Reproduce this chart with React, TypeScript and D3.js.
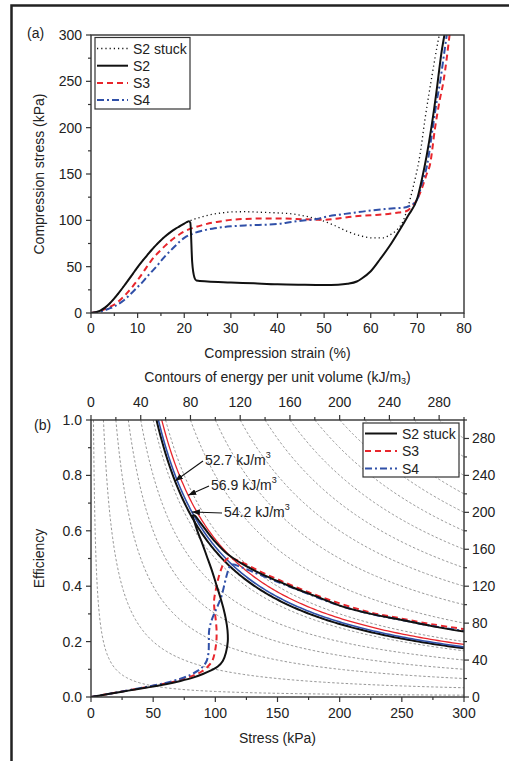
import React from 'react';
import * as d3 from 'd3';

const FONT = "'Liberation Sans', Arial, Helvetica, sans-serif";
const RED = '#e8262c';
const BLUE = '#3050a8';
const INK = '#222';

// ---------- Panel (a) data: compression strain (%) vs stress (kPa)
const strainTicks = [0, 10, 20, 30, 40, 50, 60, 70, 80];
const strainMinor = [5, 15, 25, 35, 45, 55, 65, 75];
const stressTicksA = [0, 50, 100, 150, 200, 250, 300];
const stressMinorA = [25, 75, 125, 175, 225, 275];

const s2StuckA: [number, number][] = [
  [0, 0], [1, 0.8], [2, 2.6], [3, 5.8], [4, 10.3], [5, 15.8], [6, 22], [7, 28.6], [8, 35.4], [9, 42.5], [10, 49.5],
  [11, 56], [12, 62], [13, 68], [14, 73.5], [15, 78.5], [16, 83], [17, 87], [18, 90.5], [19, 93.5], [20, 96.5],
  [21, 99], [22, 101], [24, 104], [26, 106.5], [28, 108], [30, 109], [33, 109.3], [36, 108.8], [40, 108],
  [43, 107], [46, 104.5], [49, 100.7], [52, 95], [55, 88], [58, 83], [60.5, 81], [62.7, 81], [64, 84],
  [65.6, 89.6], [67, 100], [68, 115], [69.1, 136], [70.6, 172], [71.6, 208], [73.1, 255], [74.5, 295], [74.7, 300],
];
const s2A: [number, number][] = [
  [0, 0], [1, 0.8], [2, 2.6], [3, 5.8], [4, 10.3], [5, 15.8], [6, 22], [7, 28.6], [8, 35.4], [9, 42.5], [10, 49.5],
  [11, 56], [12, 62], [13, 68], [14, 73.5], [15, 78.5], [16, 83], [17, 87], [18, 90.5], [19, 93.5], [20, 96.5],
  [21, 99], [21.3, 97.5], [21.7, 55], [22.2, 38], [22.6, 35], [25, 34], [30, 33], [35, 32], [40, 31],
  [45, 30.5], [50, 30.2], [53, 30.5], [55, 31.5], [57, 34], [58, 37], [60, 45], [62, 58], [64, 72], [66, 88],
  [68, 105], [70, 124], [71, 145], [72, 170], [73, 200], [74, 235], [74.5, 255], [75.2, 282], [75.8, 300],
];
const s3A: [number, number][] = [
  [0, 0], [1, 0.8], [2, 2.2], [3, 4.2], [4, 6.5], [5, 9], [6, 13], [7, 17.5], [8, 23], [9, 29], [10, 35.5],
  [11, 42.5], [12, 50], [13, 57], [14, 63], [15, 68], [16, 73], [17, 77.5], [18, 81.5], [19, 85], [20, 88],
  [22, 92], [24, 95], [26, 97.5], [28, 99], [30, 100.5], [33, 101.5], [36, 102], [40, 102], [44, 101.5],
  [48, 100.7], [50, 100.5], [53, 102], [56, 104], [60, 105.5], [63, 106.5], [66, 108.5], [67.7, 110],
  [69, 116], [69.9, 122], [71, 135], [72, 150], [72.7, 160], [73.8, 200], [74.8, 230], [75.6, 250],
  [76.3, 275], [76.9, 300],
];
const s4A: [number, number][] = [
  [0, 0], [1, 0.5], [2, 1.5], [3, 3], [4, 5], [5, 7], [6, 10], [7, 13.5], [8, 18], [9, 23], [10, 28],
  [11, 33], [12, 39], [13, 44.5], [14, 50], [15, 56], [16, 62], [17, 67], [18, 72], [19, 77], [20, 81],
  [22, 86], [24, 89], [26, 91], [28, 92.5], [30, 93.5], [33, 94.5], [36, 95], [40, 96], [43.4, 98.5],
  [46, 100], [48.4, 101.4], [50.5, 104], [53, 106], [55.5, 107.6], [59, 110], [62.7, 112], [65, 113],
  [67, 113.5], [68.5, 116], [69.9, 122], [71, 140], [72.1, 160], [73.3, 200], [74.2, 230], [74.9, 250],
  [75.6, 275], [76.3, 300],
];

// ---------- Panel (b) data: stress (kPa) vs efficiency
const stressTicksB = [0, 50, 100, 150, 200, 250, 300];
const stressMinorB = [25, 75, 125, 175, 225, 275];
const effTicks = [0, 0.2, 0.4, 0.6, 0.8, 1.0];
const effMinor = [0.1, 0.3, 0.5, 0.7, 0.9];
const energyTicks = [0, 40, 80, 120, 160, 200, 240, 280];
const energyMinor = [20, 60, 100, 140, 180, 220, 260, 300];
const contourLevels = [2, 10, 20, 30, 40, 50, 60, 80, 100, 120, 140, 160, 180, 200, 220, 240, 260, 280];
const markedLevels = [52.7, 54.2, 56.9];
const markedLabels = ['52.7 kJ/m', '54.2 kJ/m', '56.9 kJ/m'];

const s2StuckB: [number, number][] = [
  [0, 0], [5, 0.004], [15, 0.012], [30, 0.023], [45, 0.034], [60, 0.046], [72, 0.058], [82, 0.07],
  [90, 0.083], [97, 0.097], [102, 0.11], [106, 0.13], [108.5, 0.16], [110, 0.2], [109.8, 0.24],
  [108.5, 0.28], [106.5, 0.32], [104, 0.36], [100.5, 0.41], [97, 0.46], [93, 0.51], [89, 0.56],
  [85.5, 0.6], [83, 0.635], [82, 0.655], [83.5, 0.655], [87, 0.635], [92, 0.605], [100, 0.56],
  [110, 0.515], [120, 0.485], [130, 0.46], [145, 0.428], [160, 0.4], [180, 0.365], [200, 0.33],
  [225, 0.3], [250, 0.278], [275, 0.255], [300, 0.236],
];
const s3B: [number, number][] = [
  [0, 0], [5, 0.004], [15, 0.012], [30, 0.024], [45, 0.036], [60, 0.049], [72, 0.062], [82, 0.077],
  [89, 0.092], [94, 0.11], [97.5, 0.13], [99.5, 0.16], [100.8, 0.2], [101, 0.24], [100.3, 0.28],
  [99.2, 0.32], [99, 0.35], [100.5, 0.39], [102.5, 0.43], [105, 0.465], [107.5, 0.49], [110, 0.5],
  [115, 0.497], [122, 0.485], [135, 0.455], [150, 0.425], [175, 0.378], [200, 0.338], [225, 0.305],
  [250, 0.283], [275, 0.262], [300, 0.245],
];
const s4B: [number, number][] = [
  [0, 0], [5, 0.004], [15, 0.012], [30, 0.024], [45, 0.037], [60, 0.051], [72, 0.066], [80, 0.08],
  [86, 0.095], [90, 0.11], [93, 0.13], [94.5, 0.16], [94.8, 0.2], [95, 0.24], [96.5, 0.27], [99, 0.3],
  [102, 0.33], [105, 0.365], [107.5, 0.41], [109.5, 0.445], [111.5, 0.47], [114, 0.478], [120, 0.47],
  [130, 0.452], [145, 0.425], [160, 0.398], [180, 0.363], [200, 0.33], [225, 0.3], [250, 0.278],
  [275, 0.256], [300, 0.238],
];

// ---------- layout
const A = { l: 91, r: 464, t: 35, b: 313 };
const B = { l: 91, r: 464, t: 420, b: 697 };

const xA = d3.scaleLinear().domain([0, 80]).range([A.l, A.r]);
const yA = d3.scaleLinear().domain([0, 300]).range([A.b, A.t]);
const xB = d3.scaleLinear().domain([0, 300]).range([B.l, B.r]);
const yB = d3.scaleLinear().domain([0, 1]).range([B.b, B.t]);
const yBR = d3.scaleLinear().domain([0, 300]).range([B.b, B.t]);

const lineA = d3.line<[number, number]>().x(d => xA(d[0])).y(d => yA(d[1])).curve(d3.curveMonotoneX);
const lineB = d3.line<[number, number]>().x(d => xB(d[0])).y(d => yB(d[1])).curve(d3.curveCatmullRom.alpha(0.5));

// contour of constant energy per unit volume: efficiency = W / stress
function contourPath(level: number): string {
  const pts: [number, number][] = [];
  const start = Math.max(level, 0.5);
  const n = 160;
  for (let i = 0; i <= n; i++) {
    const s = start * Math.pow(300 / start, i / n);
    pts.push([s, level / s]);
  }
  return d3.line<[number, number]>().x(d => xB(d[0])).y(d => yB(d[1]))(pts) || '';
}

const STY = {
  stuckDot: { stroke: '#111', strokeWidth: 1.3, strokeDasharray: '1.2,3' },
  solid: { stroke: '#111', strokeWidth: 2 },
  dash: { stroke: RED, strokeWidth: 2, strokeDasharray: '6,4' },
  dashDot: { stroke: BLUE, strokeWidth: 2, strokeDasharray: '7,3,2,3' },
};

const tickFont = { fontFamily: FONT, fontSize: 14, fill: INK } as const;

export default function App() {
  return (
    <svg width={509} height={761} style={{ position: 'absolute', left: 0, top: 0, background: '#fff' }}
      xmlns="http://www.w3.org/2000/svg">
      <defs>
        <clipPath id="clipA"><rect x={A.l} y={A.t} width={A.r - A.l} height={A.b - A.t} /></clipPath>
        <clipPath id="clipB"><rect x={B.l} y={B.t} width={B.r - B.l} height={B.b - B.t} /></clipPath>
        <marker id="arr" viewBox="0 0 8 6" refX="8" refY="3" markerWidth="8" markerHeight="6" orient="auto" markerUnits="userSpaceOnUse">
          <path d="M0,0 L8,3 L0,6 z" fill="#111" />
        </marker>
      </defs>
      <rect x={0} y={0} width={509} height={761} fill="#fff" />
      {/* frame */}
      <path d="M11.5,761 L11.5,5.5 L509,5.5" fill="none" stroke="#222" strokeWidth={2.5} />

      {/* ================= Panel (a) ================= */}
      <text x={27} y={38} style={tickFont}>(a)</text>
      <g clipPath="url(#clipA)" fill="none">
        <path d={lineA(s2StuckA) || ''} {...STY.stuckDot} />
        <path d={lineA(s3A) || ''} {...STY.dash} />
        <path d={lineA(s4A) || ''} {...STY.dashDot} />
        <path d={lineA(s2A) || ''} {...STY.solid} />
      </g>
      <rect x={A.l} y={A.t} width={A.r - A.l} height={A.b - A.t} fill="none" stroke="#333" strokeWidth={1.4} />
      {stressTicksA.map(v => (
        <g key={'ya' + v}>
          <line x1={A.l - 5} x2={A.l} y1={yA(v)} y2={yA(v)} stroke="#333" strokeWidth={1.2} />
          <text x={A.l - 9} y={yA(v) + 5} textAnchor="end" style={tickFont}>{v}</text>
        </g>
      ))}
      {stressMinorA.map(v => (
        <line key={'yam' + v} x1={A.l - 3} x2={A.l} y1={yA(v)} y2={yA(v)} stroke="#333" strokeWidth={1.2} />
      ))}
      {strainTicks.map(v => (
        <g key={'xa' + v}>
          <line x1={xA(v)} x2={xA(v)} y1={A.b} y2={A.b + 5} stroke="#333" strokeWidth={1.2} />
          <text x={xA(v)} y={A.b + 20} textAnchor="middle" style={tickFont}>{v}</text>
        </g>
      ))}
      {strainMinor.map(v => (
        <line key={'xam' + v} x1={xA(v)} x2={xA(v)} y1={A.b} y2={A.b + 3} stroke="#333" strokeWidth={1.2} />
      ))}
      <text x={(A.l + A.r) / 2} y={358} textAnchor="middle" style={tickFont}>Compression strain (%)</text>
      <text transform={`translate(44,${(A.t + A.b) / 2}) rotate(-90)`} textAnchor="middle" style={tickFont}>Compression stress (kPa)</text>
      {/* legend a */}
      <rect x={95} y={37.5} width={95} height={71.5} fill="#fff" stroke="#333" strokeWidth={1.2} />
      {[
        { label: 'S2 stuck', sty: STY.stuckDot },
        { label: 'S2', sty: STY.solid },
        { label: 'S3', sty: STY.dash },
        { label: 'S4', sty: STY.dashDot },
      ].map((e, i) => (
        <g key={'lga' + i}>
          <line x1={97} x2={128} y1={48.5 + i * 17.2} y2={48.5 + i * 17.2} {...e.sty} />
          <text x={133} y={53.5 + i * 17.2} style={tickFont}>{e.label}</text>
        </g>
      ))}

      {/* ================= Panel (b) ================= */}
      <text x={(B.l + B.r) / 2} y={382} textAnchor="middle" style={tickFont}>
        Contours of energy per unit volume (kJ/m<tspan fontSize={9} dy={2}>3</tspan><tspan dy={-2}>)</tspan>
      </text>
      <text x={34} y={430} style={tickFont}>(b)</text>
      <g clipPath="url(#clipB)" fill="none">
        {contourLevels.map(l => (
          <path key={'c' + l} d={contourPath(l)} stroke="#8a8a8a" strokeWidth={0.9} strokeDasharray="2.5,2" />
        ))}
        <path d={contourPath(markedLevels[0])} stroke="#111" strokeWidth={2} />
        <path d={contourPath(markedLevels[1])} stroke={BLUE} strokeWidth={1.6} />
        <path d={contourPath(markedLevels[2])} stroke={RED} strokeWidth={1.3} />
        <path d={lineB(s3B) || ''} {...STY.dash} />
        <path d={lineB(s4B) || ''} {...STY.dashDot} />
        <path d={lineB(s2StuckB) || ''} {...STY.solid} />
      </g>
      <rect x={B.l} y={B.t} width={B.r - B.l} height={B.b - B.t} fill="none" stroke="#333" strokeWidth={1.4} />
      {/* left axis */}
      {effTicks.map(v => (
        <g key={'yb' + v}>
          <line x1={B.l - 5} x2={B.l} y1={yB(v)} y2={yB(v)} stroke="#333" strokeWidth={1.2} />
          <text x={B.l - 9} y={yB(v) + 5} textAnchor="end" style={tickFont}>{v.toFixed(1)}</text>
        </g>
      ))}
      {effMinor.map(v => (
        <line key={'ybm' + v} x1={B.l - 3} x2={B.l} y1={yB(v)} y2={yB(v)} stroke="#333" strokeWidth={1.2} />
      ))}
      {/* bottom axis */}
      {stressTicksB.map(v => (
        <g key={'xb' + v}>
          <line x1={xB(v)} x2={xB(v)} y1={B.b} y2={B.b + 5} stroke="#333" strokeWidth={1.2} />
          <text x={xB(v)} y={B.b + 21} textAnchor="middle" style={tickFont}>{v}</text>
        </g>
      ))}
      {stressMinorB.map(v => (
        <line key={'xbm' + v} x1={xB(v)} x2={xB(v)} y1={B.b} y2={B.b + 3} stroke="#333" strokeWidth={1.2} />
      ))}
      {/* top axis */}
      {energyTicks.map(v => (
        <g key={'xt' + v}>
          <line x1={xB(v)} x2={xB(v)} y1={B.t} y2={B.t - 5} stroke="#333" strokeWidth={1.2} />
          <text x={xB(v)} y={B.t - 13} textAnchor="middle" style={tickFont}>{v}</text>
        </g>
      ))}
      {energyMinor.map(v => (
        <line key={'xtm' + v} x1={xB(v)} x2={xB(v)} y1={B.t} y2={B.t - 3} stroke="#333" strokeWidth={1.2} />
      ))}
      {/* right axis */}
      {energyTicks.map(v => (
        <g key={'yr' + v}>
          <line x1={B.r} x2={B.r + 5} y1={yBR(v)} y2={yBR(v)} stroke="#333" strokeWidth={1.2} />
          <text x={B.r + 8} y={yBR(v) + 5} textAnchor="start" style={tickFont}>{v}</text>
        </g>
      ))}
      {energyMinor.map(v => (
        <line key={'yrm' + v} x1={B.r} x2={B.r + 3} y1={yBR(v)} y2={yBR(v)} stroke="#333" strokeWidth={1.2} />
      ))}
      <text x={(B.l + B.r) / 2} y={743} textAnchor="middle" style={tickFont}>Stress (kPa)</text>
      <text transform={`translate(44,${(B.t + B.b) / 2}) rotate(-90)`} textAnchor="middle" style={tickFont}>Efficiency</text>

      {/* annotations */}
      {[
        { i: 0, eta: 0.78, tx: 205, ty: 465 },
        { i: 2, eta: 0.728, tx: 211, ty: 490 },
        { i: 1, eta: 0.668, tx: 224, ty: 517 },
      ].map(a => {
        const lvl = markedLevels[a.i];
        const px = xB(lvl / a.eta);
        const py = yB(a.eta);
        return (
          <g key={'an' + a.i}>
            <line x1={a.tx - 2} y1={a.ty - 4} x2={px} y2={py} stroke="#111" strokeWidth={1.1} markerEnd="url(#arr)" />
            <text x={a.tx} y={a.ty} style={tickFont}>
              {markedLabels[a.i]}<tspan fontSize={9} dy={-7}>3</tspan>
            </text>
          </g>
        );
      })}

      {/* legend b */}
      <rect x={363} y={423} width={96} height={54} fill="#fff" stroke="#333" strokeWidth={1.2} />
      {[
        { label: 'S2 stuck', sty: STY.solid },
        { label: 'S3', sty: STY.dash },
        { label: 'S4', sty: STY.dashDot },
      ].map((e, i) => (
        <g key={'lgb' + i}>
          <line x1={365} x2={397} y1={433.5 + i * 17.5} y2={433.5 + i * 17.5} {...e.sty} />
          <text x={402} y={438.5 + i * 17.5} style={tickFont}>{e.label}</text>
        </g>
      ))}
    </svg>
  );
}
